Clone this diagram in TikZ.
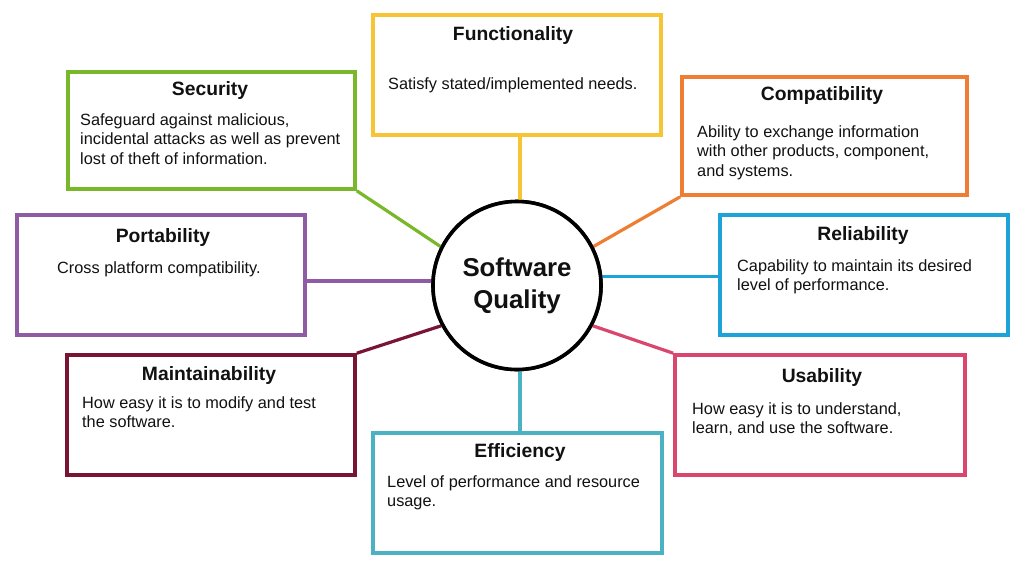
\documentclass[tikz,border=0pt]{standalone}
\usepackage{fontspec}
\setmainfont{Liberation Sans}
\definecolor{cFunc}{HTML}{F7C433}
\definecolor{cSec}{HTML}{78B82A}
\definecolor{cComp}{HTML}{EE7E33}
\definecolor{cPort}{HTML}{8F5BA5}
\definecolor{cRel}{HTML}{1CA3DA}
\definecolor{cMaint}{HTML}{7A1434}
\definecolor{cUsab}{HTML}{D9476F}
\definecolor{cEff}{HTML}{4BB2C3}
\definecolor{ink}{HTML}{111111}
\tikzset{
  qbox/.style={draw=#1, line width=3.6pt, fill=white, inner sep=0pt,
    minimum width=288pt, minimum height=120pt},
  qtitle/.style={anchor=base, inner sep=0pt, text=ink,
    font=\fontsize{19.3}{23}\selectfont\bfseries},
  % base anchor of a multi-line body sits on its last line
  qbody/.style={anchor=base west, inner sep=0pt, text=ink, align=left,
    font=\fontsize{16.3}{19.6}\selectfont},
  link/.style={draw=#1, line width=3.2pt},
  hub/.style={circle, draw=black, line width=3.6pt, fill=white,
    minimum size=168pt, inner sep=0pt, align=center, text=ink,
    font=\fontsize{25.8}{32}\selectfont\bfseries}
}
\begin{document}
\begin{tikzpicture}[x=1pt, y=-1pt]
\useasboundingbox (0,0) rectangle (1028,563);
\fill[white] (0,0) rectangle (1028,563);

% central hub (placed first so the connectors can use its anchors)
\node[hub] (sq) at (517,285.5) {};

% quality characteristic boxes
\node[qbox=cFunc] (func) at (517,75) {};
\node[qbox=cSec, minimum width=287pt, minimum height=117pt] (sec) at (211.5,130.5) {};
\node[qbox=cComp, minimum width=285pt, minimum height=118pt] (comp) at (824.5,136) {};
\node[qbox=cPort] (port) at (161,275) {};
\node[qbox=cRel] (rel) at (864,275) {};
\node[qbox=cMaint] (maint) at (211,415) {};
\node[qbox=cUsab, minimum width=290pt] (usab) at (820,415) {};
\node[qbox=cEff, minimum width=289pt] (eff) at (517.5,493) {};

% connectors from the hub to each box
\draw[link=cFunc] (sq.88) -- (sq.88 |- func.south);
\draw[link=cEff] (sq.272) -- (sq.272 |- eff.north);
\draw[link=cPort] (sq.177) -- (sq.177 -| port.east);
\draw[link=cRel] (sq.6) -- (sq.6 -| rel.west);
\draw[link=cSec] (sq.153) -- (sec.south east);
\draw[link=cComp] (sq.27) -- (comp.south west);
\draw[link=cMaint] (sq.208) -- (maint.north east);
\draw[link=cUsab] (sq.332) -- (usab.north west);

% hub redrawn on top of the connector ends
\node[hub] (hubtext) at (sq) {Software\\Quality};

% titles
\node[qtitle] (tfunc) at (513,40) {Functionality};
\node[qtitle] (tsec) at (210,95) {Security};
\node[qtitle] (tcomp) at (822,100) {Compatibility};
\node[qtitle] (tport) at (163,242) {Portability};
\node[qtitle] (trel) at (863,240) {Reliability};
\node[qtitle] (tmaint) at (209,380) {Maintainability};
\node[qtitle] (tusab) at (822,382) {Usability};
\node[qtitle] (teff) at (520,457) {Efficiency};

% descriptions
\node[qbody] (bfunc) at (388,89) {Satisfy stated/implemented needs.};
\node[qbody] (bsec) at (80,164.2) {Safeguard against malicious,\\incidental attacks as well as prevent\\lost of theft of information.};
\node[qbody] (bcomp) at (697,176.2) {Ability to exchange information\\with other products, component,\\and systems.};
\node[qbody] (bport) at (57,273) {Cross platform compatibility.};
\node[qbody] (brel) at (737,290.6) {Capability to maintain its desired\\level of performance.};
\node[qbody] (bmaint) at (82,427.6) {How easy it is to modify and test\\the software.};
\node[qbody] (busab) at (692,433.6) {How easy it is to understand,\\learn, and use the software.};
\node[qbody] (beff) at (387,506.6) {Level of performance and resource\\usage.};
\end{tikzpicture}
\end{document}
